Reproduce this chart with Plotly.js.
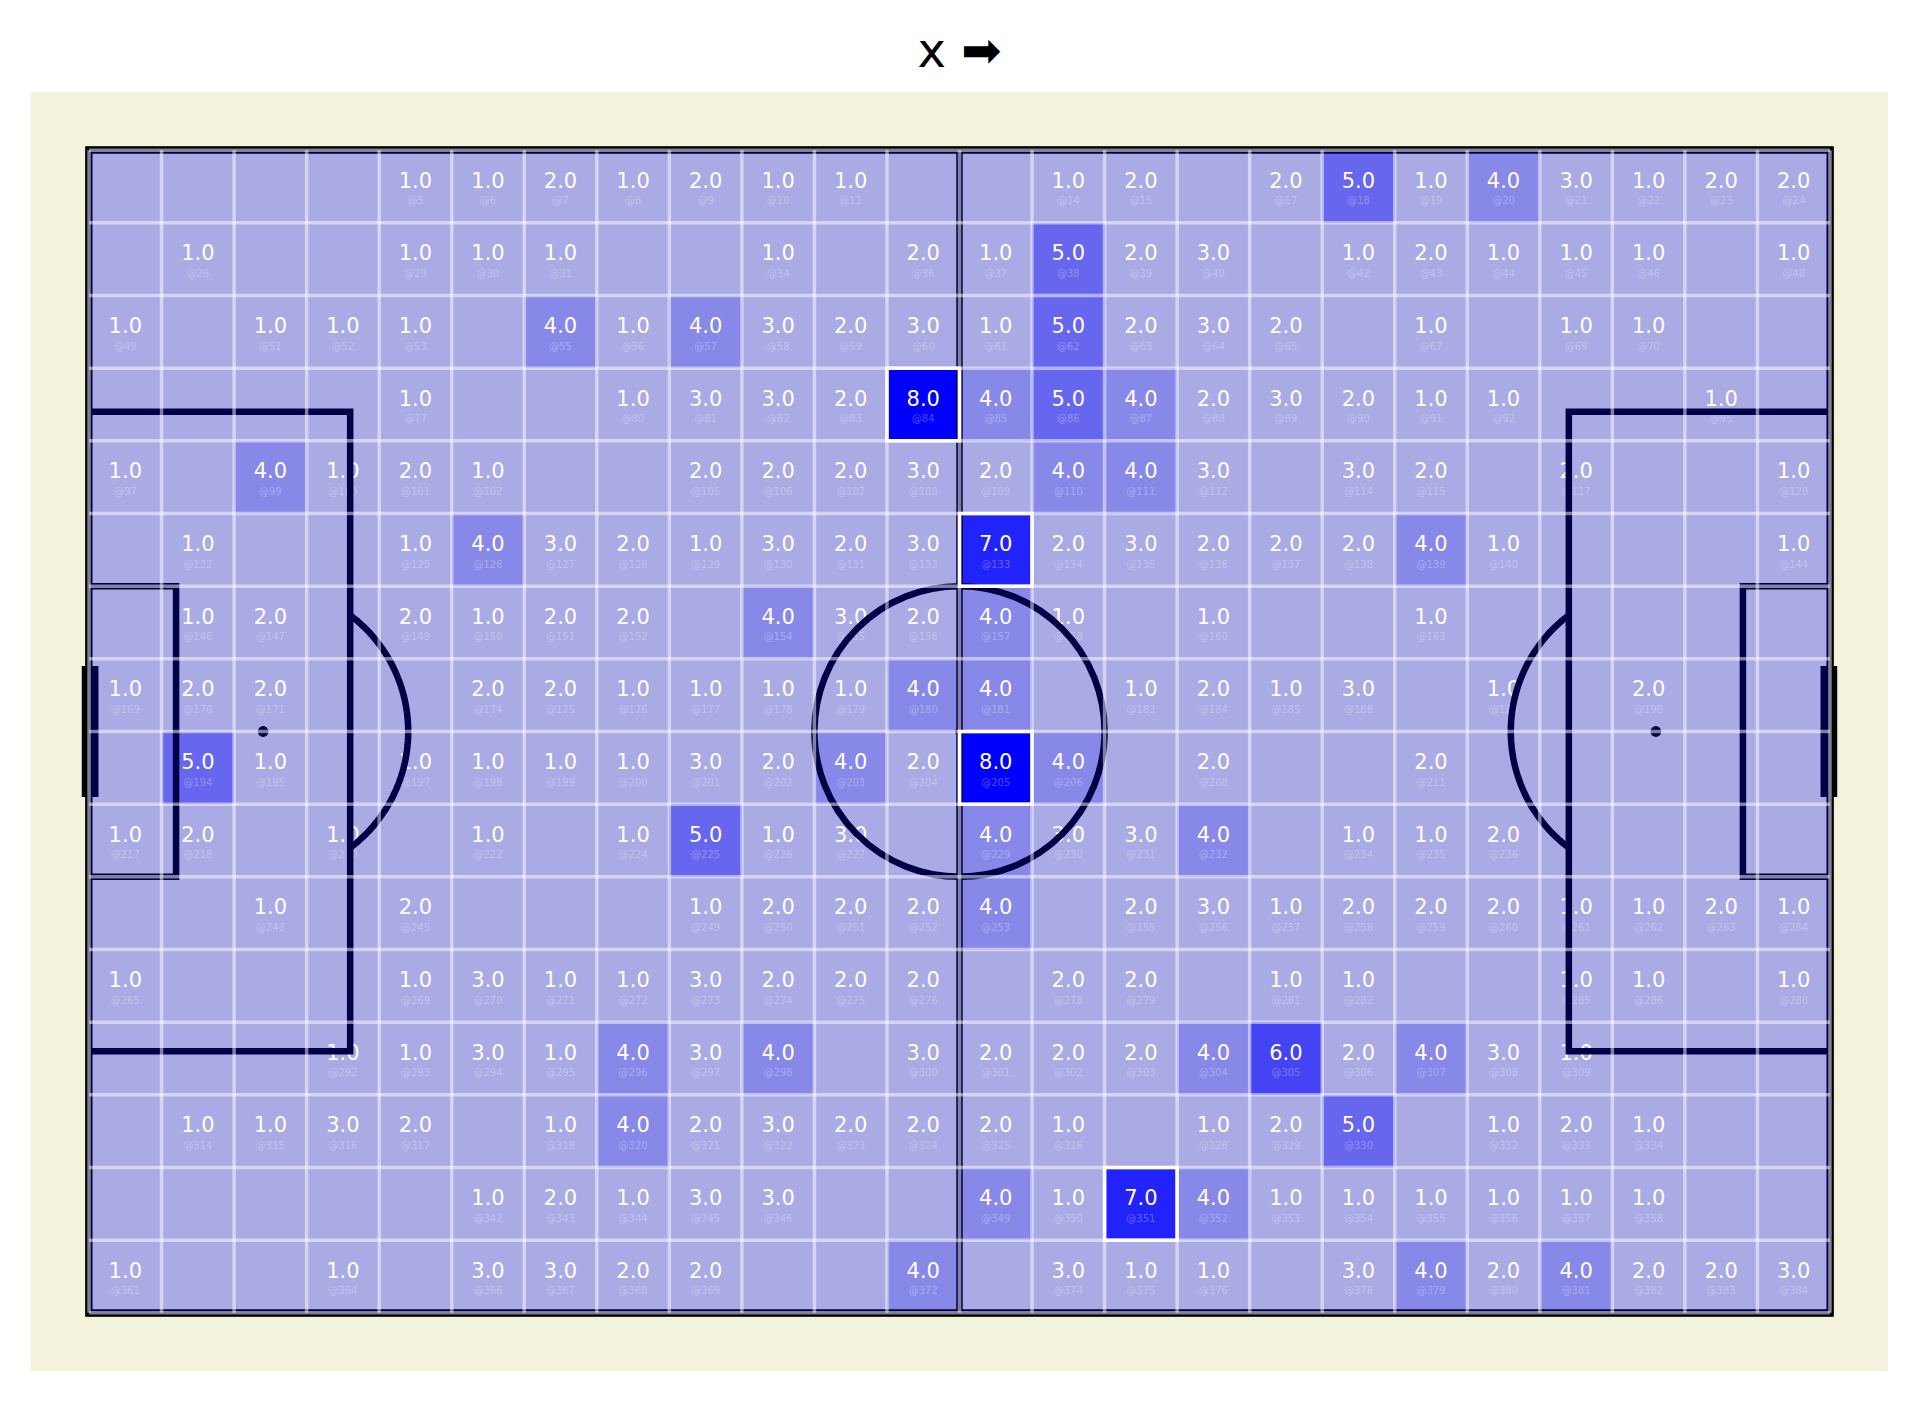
<!DOCTYPE html>
<html>
<head>
<meta charset="utf-8">
<script src="https://cdn.plot.ly/plotly-3.0.1.min.js"></script>
<style>html,body{margin:0;padding:0;background:#fff;}#chart{width:1919px;height:1401px;}</style>
</head>
<body>
<div id="chart"></div>
<script>
// ---------------- DATA ----------------
const chartTitle = "x \u27A1";
const pitchLength = 120;   // StatsBomb pitch units
const pitchWidth = 80;
const binSize = 5;         // 24 x 16 bins
const n = null;
// counts per bin, top row first (index label @k = row*24 + col + 1)
const row0  = [n,n,n,n,1,1,2,1,2,1,1,n,n,1,2,n,2,5,1,4,3,1,2,2];
const row1  = [n,1,n,n,1,1,1,n,n,1,n,2,1,5,2,3,n,1,2,1,1,1,n,1];
const row2  = [1,n,1,1,1,n,4,1,4,3,2,3,1,5,2,3,2,n,1,n,1,1,n,n];
const row3  = [n,n,n,n,1,n,n,1,3,3,2,8,4,5,4,2,3,2,1,1,n,n,1,n];
const row4  = [1,n,4,1,2,1,n,n,2,2,2,3,2,4,4,3,n,3,2,n,2,n,n,1];
const row5  = [n,1,n,n,1,4,3,2,1,3,2,3,7,2,3,2,2,2,4,1,n,n,n,1];
const row6  = [n,1,2,n,2,1,2,2,n,4,3,2,4,1,n,1,n,n,1,n,n,n,n,n];
const row7  = [1,2,2,n,n,2,2,1,1,1,1,4,4,n,1,2,1,3,n,1,n,2,n,n];
const row8  = [n,5,1,n,1,1,1,1,3,2,4,2,8,4,n,2,n,n,2,n,n,n,n,n];
const row9  = [1,2,n,1,n,1,n,1,5,1,3,n,4,3,3,4,n,1,1,2,n,n,n,n];
const row10 = [n,n,1,n,2,n,n,n,1,2,2,2,4,n,2,3,1,2,2,2,1,1,2,1];
const row11 = [1,n,n,n,1,3,1,1,3,2,2,2,n,2,2,n,1,1,n,n,1,1,n,1];
const row12 = [n,n,n,1,1,3,1,4,3,4,n,3,2,2,2,4,6,2,4,3,1,n,n,n];
const row13 = [n,1,1,3,2,n,1,4,2,3,2,2,2,1,n,1,2,5,n,1,2,1,n,n];
const row14 = [n,n,n,n,n,1,2,1,3,3,n,n,4,1,7,4,1,1,1,1,1,1,n,n];
const row15 = [1,n,n,1,n,3,3,2,2,n,n,4,n,3,1,1,n,3,4,2,4,2,2,3];
const counts = [row0,row1,row2,row3,row4,row5,row6,row7,row8,row9,row10,row11,row12,row13,row14,row15];
const highlightMin = 7;    // bins outlined in white

// ---------------- BUILD ----------------
const nCols = pitchLength / binSize, nRows = pitchWidth / binSize;
const xc = [], yc = [];
for (let c = 0; c < nCols; c++) xc.push(c * binSize + binSize / 2);
for (let r = 0; r < nRows; r++) yc.push(r * binSize + binSize / 2);

const valX = [], valY = [], valT = [], idxY = [], idxT = [];
const hiShapes = [];
counts.forEach((row, r) => row.forEach((v, c) => {
  if (v === null) return;
  valX.push(xc[c]); valY.push(yc[r] - 0.28); valT.push(v.toFixed(1));
  idxY.push(yc[r] + 1.05); idxT.push('@' + (r * nCols + c + 1));
  if (v >= highlightMin) {
    hiShapes.push({type:'rect', xref:'x', yref:'y', layer:'above',
      x0: c*binSize, x1:(c+1)*binSize, y0:r*binSize, y1:(r+1)*binSize,
      line:{color:'#ffffff', width:3.5}, fillcolor:'rgba(0,0,0,0)'});
  }
}));

const NAVY = '#000046';
const LW = 6.5;
const lineStyle = {color: NAVY, width: LW};
function path(d){ return {type:'path', xref:'x', yref:'y', layer:'above', path:d, line:lineStyle}; }
function arcPath(cx, cy, rad, a0, a1){
  let d = '';
  const steps = 60;
  for (let i = 0; i <= steps; i++) {
    const a = (a0 + (a1 - a0) * i / steps) * Math.PI / 180;
    const px = cx + rad * Math.cos(a), py = cy + rad * Math.sin(a);
    d += (i === 0 ? 'M ' : ' L ') + px.toFixed(4) + ' ' + py.toFixed(4);
  }
  return d;
}
function spot(cx, cy, r){ return {type:'circle', xref:'x', yref:'y', layer:'above',
  x0:cx-r, x1:cx+r, y0:cy-r, y1:cy+r, fillcolor:NAVY, line:{width:0}}; }

const L = pitchLength, W = pitchWidth, mid = W/2;
const arcA = Math.acos(6/10) * 180 / Math.PI;
const shapes = [
  // pitch base colour
  {type:'rect', xref:'x', yref:'y', layer:'below', x0:0, x1:L, y0:0, y1:W, fillcolor:'#aaaae4', line:{width:0}},
  // outline
  {type:'rect', xref:'x', yref:'y', layer:'above', x0:0, x1:L, y0:0, y1:W, line:{color:NAVY, width:7}, fillcolor:'rgba(0,0,0,0)'},
  {type:'rect', xref:'x', yref:'y', layer:'above', x0:-0.14, x1:L+0.14, y0:-0.14, y1:W+0.14, line:{color:'#000000', width:3.5}, fillcolor:'rgba(0,0,0,0)'},
  // halfway line and centre circle
  path(`M ${L/2} 0 L ${L/2} ${W}`),
  {type:'circle', xref:'x', yref:'y', layer:'above', x0:L/2-10, x1:L/2+10, y0:mid-10, y1:mid+10, line:lineStyle, fillcolor:'rgba(0,0,0,0)'},
  spot(L/2, mid, 0.3),
  // left end
  path(`M 0 18 L 18 18 L 18 62 L 0 62`),
  path(`M 0 30 L 6 30 L 6 50 L 0 50`),
  spot(12, mid, 0.37),
  path(arcPath(12, mid, 10, -arcA, arcA)),
  // right end
  path(`M ${L} 18 L ${L-18} 18 L ${L-18} 62 L ${L} 62`),
  path(`M ${L} 30 L ${L-6} 30 L ${L-6} 50 L ${L} 50`),
  spot(L-12, mid, 0.37),
  path(arcPath(L-12, mid, 10, 180-arcA, 180+arcA)),
  // goals
  {type:'rect', xref:'x', yref:'y', layer:'above', x0:-0.5, x1:0, y0:35.5, y1:44.5, fillcolor:'#000000', line:{width:0}},
  {type:'rect', xref:'x', yref:'y', layer:'above', x0:0, x1:0.65, y0:35.5, y1:44.5, fillcolor:NAVY, line:{width:0}},
  {type:'rect', xref:'x', yref:'y', layer:'above', x0:L, x1:L+0.5, y0:35.5, y1:44.5, fillcolor:'#000000', line:{width:0}},
  {type:'rect', xref:'x', yref:'y', layer:'above', x0:L-0.65, x1:L, y0:35.5, y1:44.5, fillcolor:NAVY, line:{width:0}},
];
// bin grid lines
for (let c = 0; c <= nCols; c++) shapes.push({type:'line', xref:'x', yref:'y', layer:'above',
  x0:c*binSize, x1:c*binSize, y0:0, y1:W, line:{color:'rgba(255,255,255,0.5)', width:3.5}});
for (let r = 0; r <= nRows; r++) shapes.push({type:'line', xref:'x', yref:'y', layer:'above',
  x0:0, x1:L, y0:r*binSize, y1:r*binSize, line:{color:'rgba(255,255,255,0.5)', width:3.5}});
shapes.push(...hiShapes);

const traces = [
  {type:'heatmap', x:xc, y:yc, z:counts, zmin:3, zmax:8,
   colorscale:[[0,'#aaaae4'],[1,'#0000ff']], showscale:false, hoverinfo:'skip'},
  {type:'scatter', mode:'text', x:valX, y:valY, text:valT, textposition:'middle center',
   textfont:{family:'DejaVu Sans', size:21, color:'#ffffff'}, hoverinfo:'skip', showlegend:false},
  {type:'scatter', mode:'text', x:valX, y:idxY, text:idxT, textposition:'middle center',
   textfont:{family:'DejaVu Sans', size:10, color:'rgba(255,255,255,0.3)'}, hoverinfo:'skip', showlegend:false},
];

const layout = {
  width:1919, height:1401,
  margin:{l:31, r:31, t:92, b:30},
  paper_bgcolor:'#ffffff', plot_bgcolor:'#f3f3dc',
  title:{text:chartTitle, x:0.5, xanchor:'center', xref:'paper', y:1-50/1401, yref:'container', yanchor:'middle',
         font:{family:'DejaVu Sans', size:48, color:'#000000'}},
  xaxis:{range:[-4, L+4], showgrid:false, zeroline:false, showticklabels:false, ticks:'', showline:false, fixedrange:true},
  yaxis:{range:[W+4, -4], showgrid:false, zeroline:false, showticklabels:false, ticks:'', showline:false, fixedrange:true},
  shapes:shapes,
  showlegend:false,
  font:{family:'DejaVu Sans'}
};
Plotly.newPlot('chart', traces, layout, {displayModeBar:false, staticPlot:true});
</script>
</body>
</html>
